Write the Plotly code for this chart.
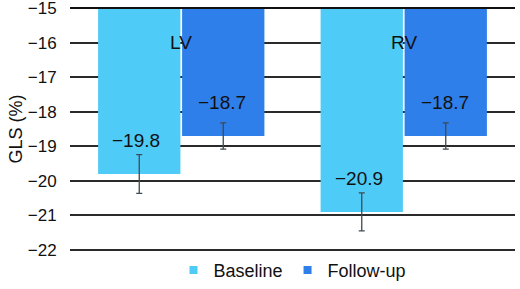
import plotly.graph_objects as go

categories = ["LV", "RV"]
series_names = ["Baseline", "Follow-up"]
baseline = [-19.8, -20.9]
followup = [-18.7, -18.7]
baseline_err = [0.56, 0.55]
followup_err = [0.38, 0.38]
tick_vals = [-15, -16, -17, -18, -19, -20, -21, -22]
axis_base = -15

colors = ["#4FCBF7", "#2F7FEA"]
font = "Liberation Sans, Arial, sans-serif"

fig = go.Figure()
for name, vals, errs, col in zip(series_names, [baseline, followup],
                                 [baseline_err, followup_err], colors):
    fig.add_trace(go.Bar(
        x=categories, y=[v - axis_base for v in vals], base=axis_base,
        name=name, marker_color=col, marker_line_width=0, showlegend=False,
        error_y=dict(type="data", array=errs, color="#3f4a52", thickness=1.3, width=3),
    ))
    fig.add_trace(go.Scatter(
        x=[None], y=[None], mode="markers", name=name,
        marker=dict(symbol="square", size=8, color=col),
    ))

# value labels inside bars (offset about one unit above the bar end)
for i, cat in enumerate(categories):
    for j, vals in enumerate([baseline, followup]):
        fig.add_annotation(
            x=cat, y=vals[i] + 0.98, text=f"\u2212{abs(vals[i]):.1f}",
            showarrow=False, xshift=(-45 if j == 0 else 41),
            font=dict(size=19, color="#111", family=font),
        )
    fig.add_annotation(x=cat, y=-16, text=cat, showarrow=False,
                       font=dict(size=19, color="#111", family=font))

# axis base line at the top, drawn above the bars
fig.add_shape(type="line", xref="paper", x0=0, x1=1, yref="y", y0=axis_base, y1=axis_base,
              line=dict(color="#111", width=2), layer="above")

fig.update_layout(
    width=520, height=289,
    margin=dict(l=70, r=5, t=7, b=38, autoexpand=False),
    plot_bgcolor="white", paper_bgcolor="white",
    barmode="group", bargap=0.245, bargroupgap=0.02,
    font=dict(family=font, size=18, color="#111"),
    legend=dict(orientation="h", x=0.5, xanchor="center",
                yref="container", y=0.065, yanchor="middle",
                bgcolor="rgba(0,0,0,0)",
                font=dict(size=18), itemwidth=30, traceorder="normal"),
    xaxis=dict(showticklabels=False, showgrid=False, zeroline=False, showline=False),
    yaxis=dict(
        range=[-22.03, -14.97], tickvals=tick_vals,
        ticktext=[f"\u2212{abs(t)}" for t in tick_vals],
        showgrid=True, gridcolor="#2a2a2a", gridwidth=1.5, zeroline=False,
        ticks="outside", ticklen=9, tickcolor="white",
        ticklabeloverflow="allow", automargin=False,
        title=dict(text="GLS (%)", font=dict(size=18), standoff=0),
        tickfont=dict(size=17),
    ),
)

fig.write_html("out.html")
